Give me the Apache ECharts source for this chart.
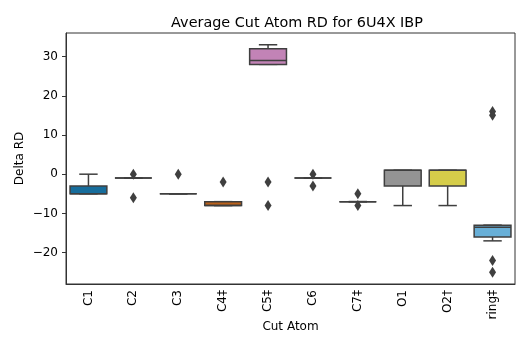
<!DOCTYPE html>
<html>
<head>
<meta charset="utf-8">
<script src="https://cdn.jsdelivr.net/npm/echarts@6/dist/echarts.min.js"></script>
<style>
  html, body { margin: 0; padding: 0; background: #fff; }
  #chart { width: 516px; height: 340px; }
</style>
</head>
<body>
<div id="chart"></div>
<script>
// cut atoms on the x axis
const categories = ["C1", "C2", "C3", "C4\u2021", "C5\u2021", "C6", "C7\u2021", "O1", "O2\u2020", "ring\u2021"];
// box stats per atom: [lower whisker, Q1, median, Q3, upper whisker]
const boxStats = [
  [-5, -5, -5, -3, 0],
  [-1, -1, -1, -1, -1],
  [-5, -5, -5, -5, -5],
  [-8, -8, -8, -7, -7],
  [28, 28, 29, 32, 33],
  [-1, -1, -1, -1, -1],
  [-7, -7, -7, -7, -7],
  [-8, -3, 1, 1, 1],
  [-8, -3, 1, 1, 1],
  [-17, -16, -13.5, -13, -13],
];
// fliers per atom
const outliers = [[], [0, -6], [0], [-2], [-2, -8], [0, -3], [-5, -8], [], [], [16, 15, -22, -25]];
// y tick labels
const yTicks = [-20, -10, 0, 10, 20, 30];
// seaborn colorblind, desaturated
const boxColors = ["#176d9c", "#c38820", "#15946f", "#ba611b", "#c283b6", "#c39265", "#f0b5dd", "#949494", "#d5cd4a", "#68afd7"];

const lineColor = "#3f3f3f";
const font = "DejaVu Sans";

let chart = echarts.init(document.getElementById("chart"));

let boxData = boxStats.map((s, i) => [i].concat(s));
let flierData = [];
outliers.forEach((list, i) => {
  list.forEach((v) => flierData.push([i, v]));
});

function renderBox(params, api) {
  let idx = api.value(0);
  let lo = api.coord([idx, api.value(1)]);
  let q1 = api.coord([idx, api.value(2)]);
  let med = api.coord([idx, api.value(3)]);
  let q3 = api.coord([idx, api.value(4)]);
  let hi = api.coord([idx, api.value(5)]);
  let band = api.size([1, 0])[0];
  let half = band * 0.41;
  let cap = half / 2;
  let x = lo[0];
  let lineStyle = { stroke: lineColor, lineWidth: 1.5 };
  return {
    type: "group",
    children: [
      { type: "line", shape: { x1: x, y1: q3[1], x2: x, y2: hi[1] }, style: lineStyle },
      { type: "line", shape: { x1: x, y1: q1[1], x2: x, y2: lo[1] }, style: lineStyle },
      { type: "line", shape: { x1: x - cap, y1: hi[1], x2: x + cap, y2: hi[1] }, style: lineStyle },
      { type: "line", shape: { x1: x - cap, y1: lo[1], x2: x + cap, y2: lo[1] }, style: lineStyle },
      {
        type: "rect",
        shape: { x: x - half, y: q3[1], width: half * 2, height: q1[1] - q3[1] },
        style: { fill: boxColors[idx], stroke: lineColor, lineWidth: 1.5 },
      },
      { type: "line", shape: { x1: x - half, y1: med[1], x2: x + half, y2: med[1] }, style: lineStyle },
    ],
  };
}

let option = {
  animation: false,
  title: {
    text: "Average Cut Atom RD for 6U4X IBP",
    left: 292,
    textAlign: "center",
    top: 11,
    textStyle: { fontFamily: font, fontSize: 14.4, fontWeight: "normal", color: "#000" },
  },
  grid: {
    left: 66,
    right: 1,
    top: 33,
    bottom: 56,
    outerBoundsMode: "none",
    containLabel: false,
    show: true,
    borderColor: "#333",
    borderWidth: 1,
  },
  xAxis: {
    type: "category",
    data: categories,
    boundaryGap: true,
    name: "Cut Atom",
    nameLocation: "middle",
    nameGap: 37,
    nameMoveOverlap: false,
    nameTextStyle: { fontFamily: font, fontSize: 12, color: "#000" },
    axisLine: { show: true, onZero: false, lineStyle: { color: "#333", width: 1 } },
    axisTick: { alignWithLabel: true, length: 4, lineStyle: { color: "#333" } },
    axisLabel: { rotate: 90, margin: 6, fontFamily: font, fontSize: 12, color: "#000" },
    splitLine: { show: false },
  },
  yAxis: {
    type: "value",
    min: -28,
    max: 36,
    name: "Delta RD",
    nameLocation: "middle",
    nameGap: 40,
    nameMoveOverlap: false,
    nameTextStyle: { fontFamily: font, fontSize: 12, color: "#000" },
    axisLine: { show: true, onZero: false, lineStyle: { color: "#333", width: 1 } },
    axisTick: { show: true, length: 4, customValues: yTicks, lineStyle: { color: "#333" } },
    axisLabel: {
      customValues: yTicks,
      margin: 8,
      fontFamily: font,
      fontSize: 12,
      color: "#000",
      formatter: (v) => String(v).replace("-", "\u2212"),
    },
    splitLine: { show: false },
  },
  series: [
    {
      type: "custom",
      renderItem: renderBox,
      data: boxData,
      encode: { x: 0, y: [1, 2, 3, 4, 5] },
      z: 2,
    },
    {
      type: "scatter",
      data: flierData,
      symbol: "diamond",
      symbolSize: [7, 11],
      itemStyle: { color: lineColor, opacity: 1 },
      z: 3,
    },
  ],
};

option && chart.setOption(option);
</script>
</body>
</html>
